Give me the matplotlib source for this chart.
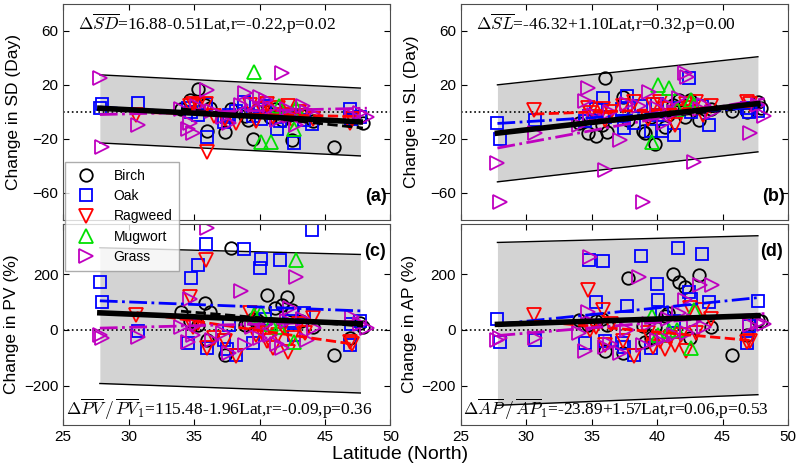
import numpy as np
import matplotlib.pyplot as plt

plt.rcParams['font.family'] = ['Liberation Sans', 'DejaVu Sans']
plt.rcParams['mathtext.fontset'] = 'cm'

# station latitudes and changes per pollen type
birch_lat = [34.0, 34.7, 35.3, 35.8, 36.0, 36.2, 37.4, 37.8, 38.9, 39.1, 39.5, 39.8,
             40.6, 40.8, 41.2, 41.7, 42.1, 42.5, 43.2, 44.1, 45.7, 46.9, 47.7, 47.9]
birch_sd = [2, 9, 17, 5, -14, 3, -15, 2, -3, -6, -20, 1, 0, -4, 2, -6, -3, -21, -2, -7, -26, -5, -3, -8]
birch_sl = [-8, -16, -18, -10, 25, -15, 11, -6, -14, -16, -4, -24, -11, -2, 5, 9, -4, 9, -6, 2, 1, 0, 7, 3]
birch_pv = [63, 30, 18, 95, -35, 63, -90, 292, 18, 25, 40, 35, 125, 20, 77, 89, 119, 71, 30, 12, -89, -30, 25, 10]
birch_ap = [36, 18, 30, 40, -77, 18, -83, 184, 15, -42, -30, 10, 48, 60, 200, 173, 155, -30, 196, 12, -89, -18, 36, 30]

oak_lat = [27.8, 28.0, 30.7, 34.5, 34.8, 35.3, 35.9, 36.0, 37.3, 37.5, 37.7, 38.2, 38.8,
           39.5, 40.0, 40.1, 40.4, 41.3, 41.6, 42.4, 42.6, 43.4, 44.0, 46.9, 47.0, 47.7]
oak_sd = [3, 6, 6.5, 3, 0, -2, 6, -18.5, -7.5, -4, -2, 1, 7, -3, 2, -5, 4, -13, -7, -2, -23, -6, -9, 2, -5, -4]
oak_sl = [-8, -20, -6, -7, -3, 2, 10, -4, 2, -12, 12, -8, 4, -14, 6, -2, -14, -17, 3, 25, 0, 4, -10, 3, 0, 1]
oak_pv = [170, 101, -4, -48, 184, 234, 309, -66, -35, -70, 18, -89, 289, -48, 222, 252, 40, 50, 250, 30, -20, 60, 357, -53, 20, 32]
oak_ap = [38, -42, -36, -48, 250, 101, 246, -40, -48, -60, 86, -89, 265, -64, 163, 107, 60, 30, 292, 137, 110, 270, 100, -48, 15, 103]

ragweed_lat = [30.6, 34.7, 34.9, 35.3, 35.9, 36.0, 36.5, 37.4, 38.2, 39.3, 39.7, 40.2,
               40.6, 41.0, 41.4, 41.8, 42.2, 42.5, 43.0, 43.5, 44.1, 46.9, 47.1]
ragweed_sd = [-2, 4, 6, 5, 6, -30, -3, -5, -8, 5, -7, 2, 6, -4, 3, -2, 4, -6, 0, -3, -5, -8, -5]
ragweed_sl = [1.5, 3, -1, -4, 2, -6, 0, 4, 7, -5, 5, 7, 2, -3, -10, 0, 6, 3, 7, -2, 4, 7, 6]
ragweed_pv = [55, 119, 10, 25, 250, -66, -30, -40, -94, 60, -20, -10, -40, -66, -20, 10, -78, -30, 20, -10, 42, -42, -50]
ragweed_ap = [54, 143, 0, 10, 71, -55, 20, -40, -95, -10, -60, -40, -70, -30, -55, -20, -75, 80, -10, 71, 40, -42, -40]

mugwort_lat = [39.6, 40.1, 40.9, 41.5, 42.6, 42.8]
mugwort_sd = [29.6, -22, -22, 4, -13, 3]
mugwort_sl = [-22, 20, 18, 2, 9, 5]
mugwort_pv = [53, 60, 20, 10, -42, 250]
mugwort_ap = [48, -20, -5, 0, -64, 71]

grass_lat = [27.8, 28.0, 30.7, 34.0, 34.5, 34.7, 34.9, 35.2, 36.0, 36.4, 37.2, 37.7, 38.6, 38.9, 39.4,
             40.0, 40.5, 40.8, 41.3, 41.7, 42.1, 42.3, 42.8, 43.3, 43.6, 44.2, 47.1, 47.7, 48.2]
grass_sd = [25, -26, -10, 2, -13, -8, -16, 4, 16, 1, -4, -8, 5, 14, 6, 11, 9, 3, -6, 29, 2, -3, -10, 4, 0, -2, -3, -1, -4]
grass_sl = [-38, -67, -16, -10, 8, 18, -4, -2, -43, 0, -21, 6, 4, -67, 15, 3, -8, 5, 0, 10, 29, 26, -37, 2, 5, 0, -16, 5, -3]
grass_pv = [-20, -30, -24, 10, -42, 110, -20, 20, 363, -35, -10, -83, 139, -54, 10, -30, 20, -20, -50, -66, 30, 80, 190, 40, -35, 5, 47, 20, 7]
grass_ap = [-36, -30, -30, -12, -75, 64, 262, 20, -60, -50, -83, 0, 190, -55, 20, -35, -30, 40, -20, 60, 107, -10, 30, 160, 10, 160, 18, 24, 20]

# overall regression (intercept, slope) and prediction band ends
fit_lat = [27.8, 47.7]
fit_sd = (16.88, -0.51)
fit_sl = (-46.32, 1.10)
fit_pv = (115.48, -1.96)
fit_ap = (-23.89, 1.57)
band_sd = ([-23.0, -32.6], [27.4, 17.6])
band_sl = ([-51.8, -29.6], [20.0, 40.8])
band_pv = ([-192, -226], [294, 270])
band_ap = ([-270, -232], [313, 337])

names = ['Birch', 'Oak', 'Ragweed', 'Mugwort', 'Grass']
lats = [birch_lat, oak_lat, ragweed_lat, mugwort_lat, grass_lat]
colors = ['k', 'b', 'r', '#00e000', 'm']
markers = ['o', 's', 'v', '^', '>']
msizes = [9, 8, 10, 10, 10]
lstyles = ['--', '-.', '--', None, '-.']

fig = plt.figure(figsize=(8, 4.71), dpi=100)
ax_a = fig.add_axes([0.079, 0.533, 0.409, 0.459])
ax_b = fig.add_axes([0.576, 0.533, 0.409, 0.459])
ax_c = fig.add_axes([0.079, 0.098, 0.409, 0.427])
ax_d = fig.add_axes([0.576, 0.098, 0.409, 0.427])

panels = [
    (ax_a, [birch_sd, oak_sd, ragweed_sd, mugwort_sd, grass_sd], fit_sd, band_sd,
     'Change in SD (Day)', '(a)', r'$\Delta\overline{SD}$=16.88-0.51Lat,r=-0.22,p=0.02'),
    (ax_b, [birch_sl, oak_sl, ragweed_sl, mugwort_sl, grass_sl], fit_sl, band_sl,
     'Change in SL (Day)', '(b)', r'$\Delta\overline{SL}$=-46.32+1.10Lat,r=0.32,p=0.00'),
    (ax_c, [birch_pv, oak_pv, ragweed_pv, mugwort_pv, grass_pv], fit_pv, band_pv,
     'Change in PV (%)', '(c)', r'$\Delta\overline{PV}\,/\,\overline{PV}_1$=115.48-1.96Lat,r=-0.09,p=0.36'),
    (ax_d, [birch_ap, oak_ap, ragweed_ap, mugwort_ap, grass_ap], fit_ap, band_ap,
     'Change in AP (%)', '(d)', r'$\Delta\overline{AP}\,/\,\overline{AP}_1$=-23.89+1.57Lat,r=0.06,p=0.53'),
]

for i, (ax, vals, fit, band, ylab, tag, eq) in enumerate(panels):
    ax.fill_between(fit_lat, band[0], band[1], color='#d3d3d3', lw=0, zorder=0)
    ax.plot(fit_lat, band[0], 'k-', lw=1)
    ax.plot(fit_lat, band[1], 'k-', lw=1)
    ax.axhline(0, color='k', ls=':', lw=1.2)
    for lat, v, c, m, ms, nm in zip(lats, vals, colors, markers, msizes, names):
        ax.plot(lat, v, ls='none', marker=m, ms=ms, mfc='none', mec=c, mew=1.3, label=nm)
    # per-species trend lines
    for lat, v, c, st in zip(lats, vals, colors, lstyles):
        if st is None:
            continue
        k = np.polyfit(lat, v, 1)
        xx = np.array([min(lat), max(lat)])
        ax.plot(xx, np.polyval(k, xx), color=c, ls=st, lw=2)
    xx = np.array(fit_lat)
    ax.plot(xx, fit[0] + fit[1] * xx, 'k-', lw=4)

    ax.set_xlim(25, 50)
    ax.set_xticks([25, 30, 35, 40, 45, 50])
    ax.tick_params(direction='in', top=True, right=True, labelsize=11, length=4)
    ax.set_ylabel(ylab, fontsize=12.5)
    for s in ax.spines.values():
        s.set_linewidth(0.8)
        s.set_color('0.3')
    if i < 2:
        ax.yaxis.set_label_coords(-0.128, 0.5)
        ax.set_ylim(-80, 80)
        ax.set_yticks([-60, -20, 20, 60])
        ax.set_xticklabels([])
        ax.text(0.99, 0.11, tag, transform=ax.transAxes, ha='right', va='center',
                fontsize=13, fontweight='bold')
        ax.text(0.045, 0.905, eq, transform=ax.transAxes, ha='left', va='center',
                fontsize=12.5, family='Liberation Serif')
    else:
        ax.yaxis.set_label_coords(-0.135, 0.5)
        ax.set_ylim(-340, 380)
        ax.set_yticks([-200, 0, 200])
        ax.text(0.985, 0.86, tag, transform=ax.transAxes, ha='right', va='center',
                fontsize=13, fontweight='bold')
        ax.text(0.008, 0.015, eq, transform=ax.transAxes, ha='left', va='bottom',
                fontsize=12.5, family='Liberation Serif')

fig.text(0.5, 0.035, 'Latitude (North)', ha='center', va='center', fontsize=14)

handles, labels = ax_a.get_legend_handles_labels()
fig.legend(handles, labels, loc='upper left', bbox_to_anchor=(0.081, 0.656),
           fontsize=10, frameon=True, fancybox=False, edgecolor='0.6',
           borderpad=0.5, labelspacing=0.45, handletextpad=1.0, borderaxespad=0)

fig.savefig('out.png', dpi=100)
